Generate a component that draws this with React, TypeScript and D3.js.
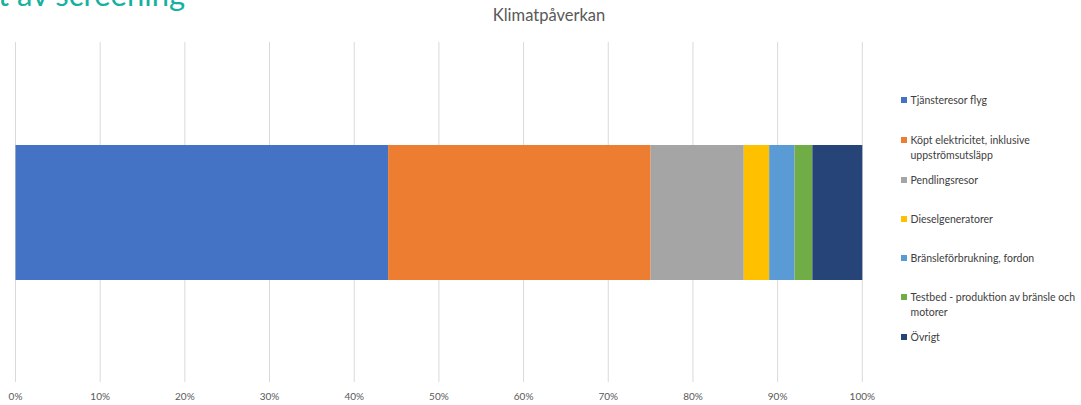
import React from "react";
import * as d3 from "d3";

const categories = [
  "Tjänsteresor flyg",
  "Köpt elektricitet, inklusive uppströmsutsläpp",
  "Pendlingsresor",
  "Dieselgeneratorer",
  "Bränsleförbrukning, fordon",
  "Testbed - produktion av bränsle och motorer",
  "Övrigt",
];
const values = [44, 31, 11, 3, 3, 2.1, 5.9];
const legendLines = [
  ["Tjänsteresor flyg"],
  ["Köpt elektricitet, inklusive", "uppströmsutsläpp"],
  ["Pendlingsresor"],
  ["Dieselgeneratorer"],
  ["Bränsleförbrukning, fordon"],
  ["Testbed - produktion av bränsle och", "motorer"],
  ["Övrigt"],
];
const colors = ["#4472C4", "#ED7D31", "#A5A5A5", "#FFC000", "#5B9BD5", "#70AD47", "#264478"];
const ticks = [0, 10, 20, 30, 40, 50, 60, 70, 80, 90, 100];
const legendY = [100, 140, 180, 219, 258, 297, 337];

export default function App() {
  const W = 1081, H = 405;
  const x = d3.scaleLinear().domain([0, 100]).range([15.5, 862.3]);
  const total = d3.sum(values);
  const cum = Array.from(d3.cumsum(values));
  const stacks = cum.map((c, i) => ({ start: (c - values[i]) / total * 100, end: c / total * 100 }));
  const font = "Lato, 'Open Sans', sans-serif";
  return (
    <div style={{ position: "fixed", left: 0, top: 0 }}>
      <svg width={W} height={H} style={{ display: "block", background: "#fff" }} fontFamily={font}>
        <text x={-2} y={6} fontSize={31} fill="#14b1a0">t av screening</text>
        <text x={549} y={21} textAnchor="middle" fontSize={16.5} fill="#595959">Klimatpåverkan</text>
        {ticks.map((t) => (
          <line key={t} x1={x(t)} x2={x(t)} y1={42} y2={382} stroke="#d9d9d9" strokeWidth={1} />
        ))}
        {stacks.map((s, i) => (
          <rect key={i} x={x(s.start)} width={x(s.end) - x(s.start)} y={145} height={135} fill={colors[i]} />
        ))}
        {ticks.map((t) => (
          <text key={t} x={x(t)} y={400} textAnchor="middle" fontSize={10} fill="#595959">{t}%</text>
        ))}
        {categories.map((c, i) => (
          <g key={c}>
            <rect x={901} y={legendY[i] - 3} width={6} height={6} fill={colors[i]} />
            {legendLines[i].map((ln, j) => (
              <text key={j} x={910.5} y={legendY[i] + 3.5 + j * 15} fontSize={10.5} fill="#404040">{ln}</text>
            ))}
          </g>
        ))}
      </svg>
    </div>
  );
}
